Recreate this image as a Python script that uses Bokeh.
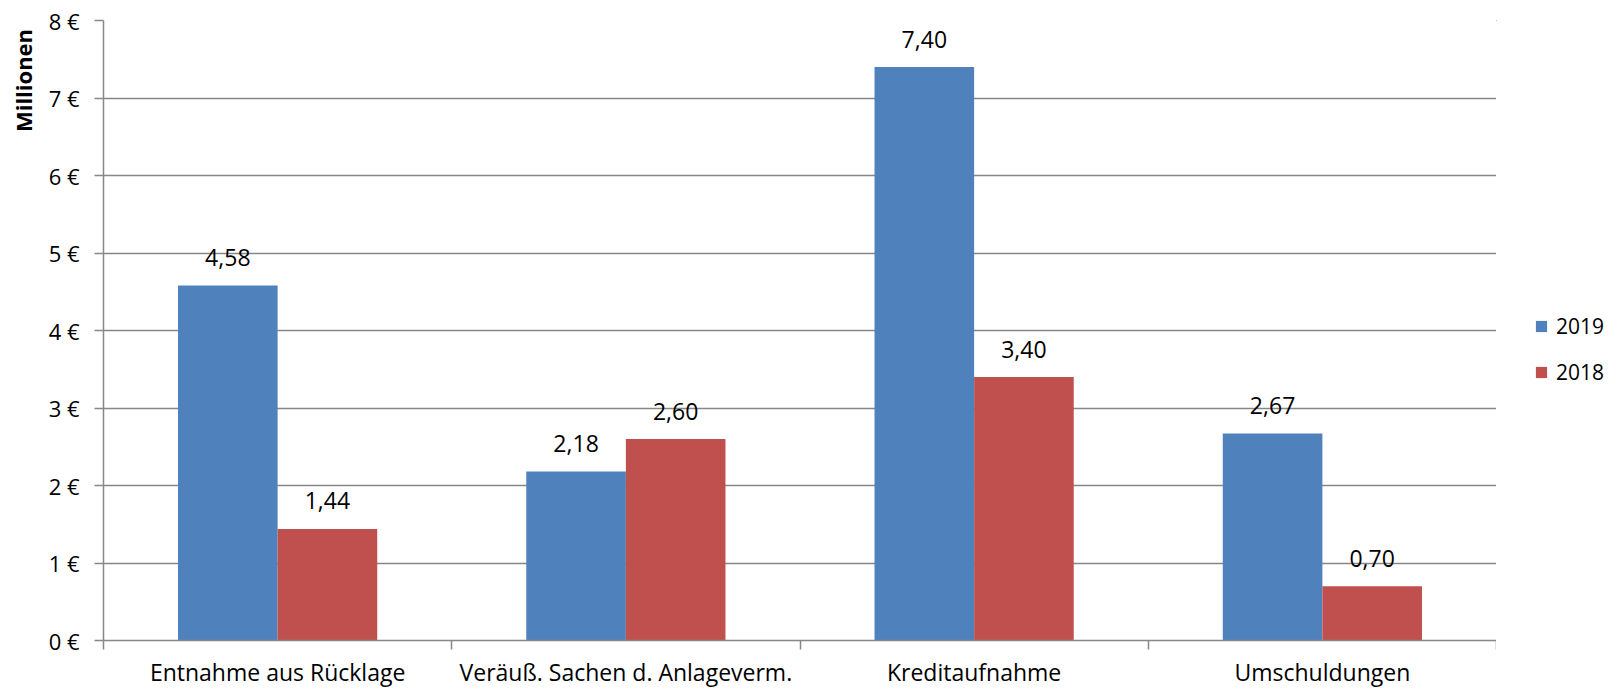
import math
from bokeh.plotting import figure
from bokeh.layouts import row
from bokeh.models import ColumnDataSource, Range1d, FixedTicker, Legend, LegendItem, Label
from bokeh.transform import dodge
from bokeh.core.properties import value
from bokeh.embed import file_html
from bokeh.resources import INLINE

categories = ["Entnahme aus Rücklage", "Veräuß. Sachen d. Anlageverm.", "Kreditaufnahme", "Umschuldungen"]
series_names = ["2019", "2018"]
values_2019 = [4.58, 2.18, 7.40, 2.67]
values_2018 = [1.44, 2.60, 3.40, 0.70]
y_tick_values = [0, 1, 2, 3, 4, 5, 6, 7, 8]
y_tick_labels = ["0 €", "1 €", "2 €", "3 €", "4 €", "5 €", "6 €", "7 €", "8 €"]
y_axis_title = "Millionen"

FONT = "Open Sans"
BLUE = "#4F81BD"
RED = "#C0504D"
GRID = "#878787"

LEFT_W, RIGHT_W, H = 38, 126, 690
TOP, BOTTOM = 20, 50
MAIN_W = 1622 - LEFT_W - RIGHT_W

centers = [i + 0.5 for i in range(len(categories))]
fmt = lambda v: f"{v:.2f}".replace(".", ",")
source = ColumnDataSource(dict(
    x=centers, cat=categories,
    v2019=values_2019, v2018=values_2018,
    l2019=[fmt(v) for v in values_2019], l2018=[fmt(v) for v in values_2018],
))

p = figure(width=MAIN_W, height=H, x_range=Range1d(0, len(categories)), y_range=Range1d(0, 8),
           output_backend="svg", toolbar_location=None,
           min_border_left=103 - LEFT_W, min_border_right=0,
           min_border_top=TOP, min_border_bottom=BOTTOM)
p.outline_line_color = None
p.background_fill_color = "white"
p.border_fill_color = "white"

bw = 0.286
bar_kw = dict(width=bw, source=source, line_color=None)
r1 = p.vbar(x=dodge("x", -bw / 2, range=p.x_range), top="v2019", fill_color=BLUE, **bar_kw)
r2 = p.vbar(x=dodge("x", bw / 2, range=p.x_range), top="v2018", fill_color=RED, **bar_kw)

for col, off in (("2019", -bw / 2), ("2018", bw / 2)):
    p.text(x=dodge("x", off, range=p.x_range), y="v" + col, text="l" + col, source=source,
           text_align="center", text_baseline="alphabetic", y_offset=-28,
           text_font=value(FONT), text_font_size="23px", text_color="black")

# x axis
xa = p.xaxis[0]
xa.ticker = FixedTicker(ticks=centers, minor_ticks=list(range(len(categories) + 1)))
ov = {}
for c, name in zip(centers, categories):
    ov[c] = name
    ov[str(c)] = name
xa.major_label_overrides = ov
xa.major_tick_line_color = None
xa.minor_tick_line_color = GRID
xa.minor_tick_out = 9
xa.minor_tick_in = 0
xa.minor_tick_line_width = 1.5
xa.axis_line_color = GRID
xa.axis_line_width = 1.5
xa.major_label_text_font = FONT
xa.major_label_text_font_size = "23px"
xa.major_label_text_color = "black"
xa.major_label_standoff = 6

# y axis
ya = p.yaxis[0]
ya.ticker = FixedTicker(ticks=y_tick_values)
ya.major_label_overrides = {t: l for t, l in zip(y_tick_values, y_tick_labels)}
ya.minor_tick_line_color = None
ya.major_tick_line_color = GRID
ya.major_tick_line_width = 1.5
ya.major_tick_out = 9
ya.major_tick_in = 0
ya.axis_line_color = GRID
ya.axis_line_width = 1.5
ya.major_label_text_font = FONT
ya.major_label_text_font_size = "22px"
ya.major_label_text_color = "black"
ya.major_label_standoff = 15

p.xgrid.grid_line_color = None
p.ygrid.grid_line_color = GRID
p.ygrid.grid_line_width = 1.5
p.ygrid.ticker = FixedTicker(ticks=y_tick_values)

def side_fig(w):
    # frame aligned with the main frame; y data = pixels from the page top
    f = figure(width=w, height=H, x_range=Range1d(0, w), y_range=Range1d(H - BOTTOM, TOP),
               output_backend="svg", toolbar_location=None,
               x_axis_location=None, y_axis_location=None,
               min_border_left=0, min_border_right=0,
               min_border_top=TOP, min_border_bottom=BOTTOM)
    f.outline_line_color = None
    f.grid.visible = False
    f.background_fill_color = "white"
    f.border_fill_color = "white"
    return f

# left: y-axis title
lf = side_fig(LEFT_W)
lf.add_layout(Label(x=22, y=80, text=y_axis_title, angle=math.pi / 2,
                    text_align="center", text_baseline="middle", text_font=FONT,
                    text_font_size="22px", text_font_style="bold", text_color="black"))

# right: legend (uses proxy renderers outside the visible range)
rf = side_fig(RIGHT_W)
q1 = rf.vbar(x=dodge("x", -1000, range=rf.x_range), top="v2019", fill_color=BLUE, **bar_kw)
q2 = rf.vbar(x=dodge("x", -1000, range=rf.x_range), top="v2018", fill_color=RED, **bar_kw)
lg = Legend(items=[LegendItem(label=series_names[0], renderers=[q1]),
                   LegendItem(label=series_names[1], renderers=[q2])],
            location=(38, 254), orientation="vertical", padding=0, margin=0, spacing=18,
            glyph_width=14, glyph_height=14, label_standoff=8, label_height=13,
            label_text_font=FONT, label_text_font_size="21px", label_text_color="black",
            border_line_color=None, background_fill_alpha=0)
rf.add_layout(lg)

layout = row(lf, p, rf, spacing=0)
open("out.html", "w").write(file_html(layout, INLINE))
